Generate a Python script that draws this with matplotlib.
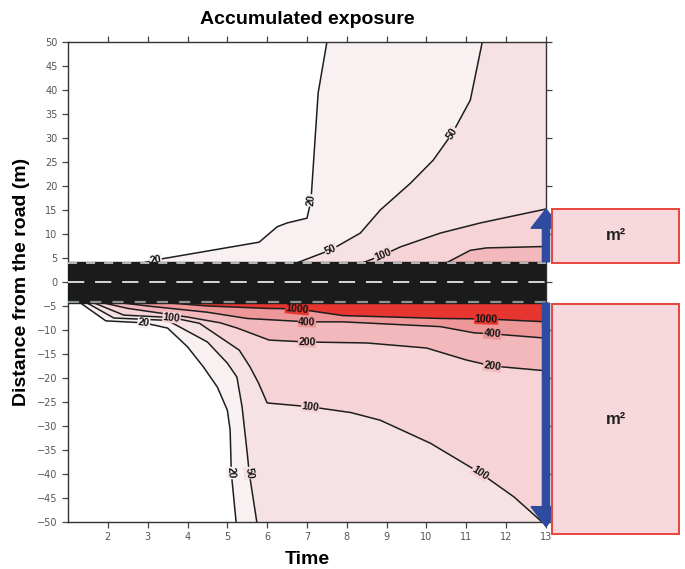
import numpy as np
import matplotlib.pyplot as plt
from matplotlib.patches import Rectangle

# time axis and distance axis limits
T_MIN, T_MAX = 1, 13
D_MIN, D_MAX = -50, 50
ROAD = (-4.4, 4.2)

# isolines above the road (time, distance)
up20_t = [2.9, 3.2, 5.8, 6.25, 6.5, 7.0, 7.1, 7.28, 7.5]
up20_d = [4.0, 4.6, 8.3, 11.5, 12.3, 13.3, 17.0, 39.4, 50.0]
up50_t = [6.75, 7.6, 8.34, 8.84, 9.6, 10.17, 10.65, 11.1, 11.4]
up50_d = [4.0, 6.7, 10.2, 15.0, 20.6, 25.4, 31.0, 37.9, 50.0]
up100_t = [8.4, 8.9, 9.34, 10.35, 11.35, 12.2, 13.0]
up100_d = [4.0, 5.6, 7.3, 10.2, 12.3, 13.8, 15.2]
up200_t = [10.5, 11.1, 11.5, 13.0]
up200_d = [4.0, 6.6, 7.1, 7.4]

# isolines below the road
lo20_t = [1.25, 1.95, 2.9, 3.5, 4.0, 4.4, 4.75, 5.0, 5.07, 5.1, 5.22]
lo20_d = [-4.0, -8.1, -8.5, -9.6, -13.5, -17.7, -21.9, -26.7, -30.8, -39.8, -50.0]
lo50_t = [1.4, 2.15, 3.5, 4.5, 5.0, 5.24, 5.37, 5.5, 5.55, 5.74]
lo50_d = [-4.0, -7.5, -8.0, -12.5, -16.9, -19.8, -26.0, -35.7, -39.8, -50.0]
lo100_t = [1.55, 2.4, 3.6, 4.3, 5.3, 5.57, 5.78, 6.0, 7.08, 8.1, 8.84, 10.1, 11.35, 12.2, 12.9]
lo100_d = [-4.0, -6.9, -7.4, -8.6, -14.2, -17.7, -21.0, -25.2, -26.0, -27.2, -28.8, -33.6, -39.8, -44.8, -50.0]
lo200_t = [1.7, 2.5, 4.0, 4.82, 5.25, 6.05, 7.0, 8.5, 10.0, 11.0, 11.65, 13.0]
lo200_d = [-4.0, -5.5, -7.3, -8.5, -9.6, -12.1, -12.5, -12.7, -13.75, -16.25, -17.5, -18.5]
lo400_t = [2.0, 3.0, 4.5, 5.5, 7.0, 7.9, 10.35, 11.2, 11.65, 13.0]
lo400_d = [-4.0, -5.0, -6.3, -7.6, -8.3, -8.3, -9.3, -10.6, -10.8, -11.7]
lo1000_t = [3.0, 4.5, 6.0, 6.75, 7.9, 10.35, 11.5, 13.0]
lo1000_d = [-4.0, -5.0, -5.5, -5.6, -7.0, -7.6, -7.7, -8.3]

levels = {20: '#f9f1f1', 50: '#f6e2e4', 100: '#f5d3d6',
          200: '#f2b8bb', 400: '#ee9799', 1000: '#e6362f'}

# (level, time, distance, road edge, vertices that carry a label)
isolines = [
    (20, up20_t, up20_d, ROAD[1], [1, 6]),
    (50, up50_t, up50_d, ROAD[1], [1, 6]),
    (100, up100_t, up100_d, ROAD[1], [1]),
    (200, up200_t, up200_d, ROAD[1], []),
    (20, lo20_t, lo20_d, ROAD[0], [2, 9]),
    (50, lo50_t, lo50_d, ROAD[0], [8]),
    (100, lo100_t, lo100_d, ROAD[0], [2, 8, 12]),
    (200, lo200_t, lo200_d, ROAD[0], [6, 10]),
    (400, lo400_t, lo400_d, ROAD[0], [4, 8]),
    (1000, lo1000_t, lo1000_d, ROAD[0], [3, 6]),
]

fig = plt.figure(figsize=(6.85, 5.69), dpi=100)
ax = fig.add_axes([68 / 685, 47 / 569, 478 / 685, 480 / 569])
ax.set_xlim(T_MIN, T_MAX)
ax.set_ylim(D_MIN, D_MAX)

# filled bands, lowest level first so the higher ones paint over
for lev, t, d, edge, _ in isolines:
    xs = list(t) + [T_MAX, T_MAX]
    ys = list(d) + [d[-1], edge]
    ax.fill(xs, ys, color=levels[lev], lw=0, zorder=1)

for lev, t, d, edge, _ in isolines:
    ax.plot(t, d, color='#1e1e1e', lw=1.1, zorder=2)

# contour labels
for lev, t, d, edge, idx in isolines:
    for i in idx:
        a = ax.transData.transform((t[max(i - 1, 0)], d[max(i - 1, 0)]))
        b = ax.transData.transform((t[min(i + 1, len(t) - 1)], d[min(i + 1, len(t) - 1)]))
        ang = np.degrees(np.arctan2(b[1] - a[1], b[0] - a[0]))
        if ang > 90:
            ang -= 180
        if ang < -90:
            ang += 180
        ax.text(t[i], d[i], str(lev), fontsize=7.5, fontweight='bold',
                family='Liberation Sans', rotation=ang, rotation_mode='anchor',
                ha='center', va='center', color='#111', zorder=3,
                bbox=dict(boxstyle='square,pad=0.05', fc=levels[lev], ec='none'))

# the road
ax.axhspan(ROAD[0], ROAD[1], color='#1b1b1b', zorder=4)
ax.axhline(0, color='#e6e6e6', lw=1.3, dashes=(9, 6), zorder=5)
ax.axhline(ROAD[1] - 0.3, color='#c4c4c4', lw=1.3, dashes=(5, 5), zorder=5)
ax.axhline(ROAD[0] + 0.3, color='#8c9494', lw=1.6, dashes=(5, 5), zorder=5)

# arrows and area boxes on the right
blue = '#2f4b9f'
ax.arrow(T_MAX, ROAD[1], 0, 15.2 - ROAD[1], width=0.18, head_width=0.75,
         head_length=4.0, length_includes_head=True, color=blue,
         clip_on=False, zorder=6)
ax.arrow(T_MAX, ROAD[0], 0, -51.0 - ROAD[0], width=0.18, head_width=0.75,
         head_length=4.2, length_includes_head=True, color=blue,
         clip_on=False, zorder=6)

boxes = [(4.0, 15.2), (-52.5, -4.6)]
for lo, hi in boxes:
    r = Rectangle((13.16, lo), 3.19, hi - lo, fc='#f7d8dc', ec='#e8443c',
                  lw=1.4, clip_on=False, zorder=6)
    ax.add_patch(r)
    ax.text(13.16 + 3.19 / 2, (lo + hi) / 2, 'm²', fontsize=12,
            fontweight='bold', family='Liberation Sans', ha='center',
            va='center', color='#222', zorder=7)

# axes styling
ax.set_xticks(range(2, 14))
ax.set_yticks(range(-50, 51, 5))
ax.tick_params(direction='out', length=4, width=0.9, colors='#444',
               labelsize=7, top=True, right=False)
for lab in ax.get_xticklabels() + ax.get_yticklabels():
    lab.set_family('Liberation Sans Narrow')
    lab.set_color('#555')
sec = ax.secondary_yaxis('right')
sec.set_yticks(range(-50, 51, 10))
sec.tick_params(direction='out', length=4, width=0.9, colors='#444',
                labelright=False)
sec.spines['right'].set_visible(False)
for s in ax.spines.values():
    s.set_color('#333')
    s.set_linewidth(1.0)

ax.set_title('Accumulated exposure', fontsize=14, fontweight='bold',
             family='Liberation Sans', pad=13)
ax.set_xlabel('Time', fontsize=14, fontweight='bold', family='Liberation Sans',
              labelpad=6)
ax.set_ylabel('Distance from the road (m)', fontsize=14, fontweight='bold',
              family='Liberation Sans', labelpad=5)

fig.savefig('out.png', dpi=100)
